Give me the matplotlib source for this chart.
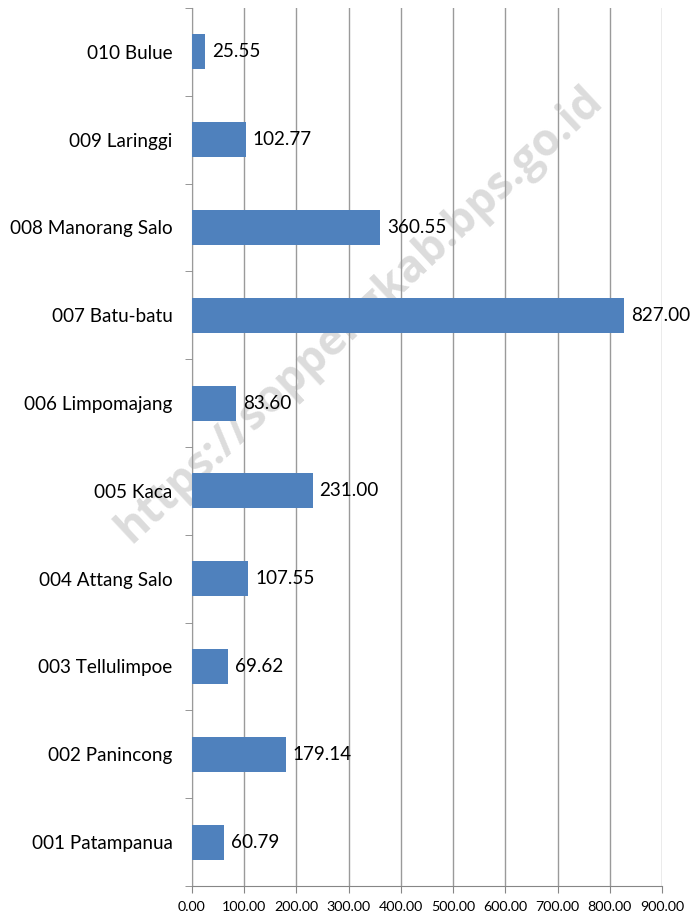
import matplotlib
matplotlib.use("Agg")
import matplotlib.pyplot as plt
from matplotlib.transforms import offset_copy
import numpy as np

# data, bottom to top as drawn
kecamatan = ["001 Patampanua", "002 Panincong", "003 Tellulimpoe", "004 Attang Salo",
             "005 Kaca", "006 Limpomajang", "007 Batu-batu", "008 Manorang Salo",
             "009 Laringgi", "010 Bulue"]
luas = [60.79, 179.14, 69.62, 107.55, 231.00, 83.60, 827.00, 360.55, 102.77, 25.55]
xticks = [0, 100, 200, 300, 400, 500, 600, 700, 800, 900]

plt.rcParams['font.family'] = ['Lato', 'DejaVu Sans']

fig = plt.figure(figsize=(6.93, 9.17), dpi=100)
ax = fig.add_axes([192/693, 1 - 886/917, 470/693, 878/917])

pos = np.arange(len(kecamatan))
ax.barh(pos, luas, height=0.4, color="#4F81BD", zorder=3)

lbl_trans = offset_copy(ax.transData, fig=fig, x=7, y=0, units="dots")
for p, v in zip(pos, luas):
    ax.text(v, p, "%.2f" % v, va="center", ha="left", fontsize=13.6,
            color="black", zorder=4, transform=lbl_trans)

ax.set_xlim(0, 900)
ax.set_ylim(-0.5, len(kecamatan) - 0.5)
ax.set_xticks(xticks)
ax.set_xticklabels(["%.2f" % t for t in xticks], fontsize=10.3)
ax.set_yticks(pos)
ax.set_yticklabels(kecamatan, fontsize=13.6)
ax.set_yticks(np.arange(-0.5, len(kecamatan)), minor=True)

ax.tick_params(axis="y", which="major", length=0, pad=14)
ax.tick_params(axis="y", which="minor", length=5, color="#868686", direction="out")
ax.tick_params(axis="x", length=5, color="#868686", direction="out", pad=6)

ax.xaxis.grid(True, color="#9a9a9a", linewidth=1.0, zorder=2)
ax.set_axisbelow(False)
for s in ["top", "right"]:
    ax.spines[s].set_visible(False)
for s in ["left", "bottom"]:
    ax.spines[s].set_color("#868686")

# watermark, behind everything in the axes
fig.text(360/693, 1 - 315/917, "https://soppengkab.bps.go.id", rotation=43,
         fontsize=32, fontweight="bold", family=["Open Sans", "DejaVu Sans"],
         color="#dcdcdc", ha="center", va="center", zorder=-1)
ax.patch.set_alpha(0)

fig.savefig("out.png", dpi=100)
